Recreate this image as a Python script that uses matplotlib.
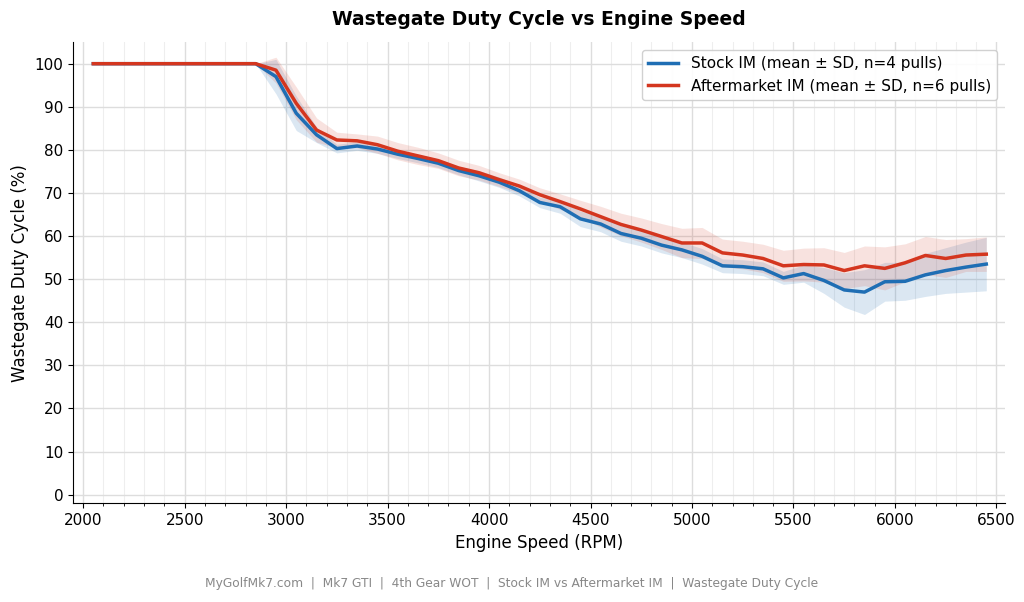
import numpy as np
import matplotlib
matplotlib.use("Agg")
import matplotlib.pyplot as plt
from matplotlib.ticker import MultipleLocator

# engine speed bins (RPM)
rpm = [2050, 2150, 2250, 2350, 2450, 2550, 2650, 2750, 2850, 2950,
       3050, 3150, 3250, 3350, 3450, 3550, 3650, 3750, 3850, 3950,
       4050, 4150, 4250, 4350, 4450, 4550, 4650, 4750, 4850, 4950,
       5050, 5150, 5250, 5350, 5450, 5550, 5650, 5750, 5850, 5950,
       6050, 6150, 6250, 6350, 6450]

stock_mean = [100, 100, 100, 100, 100, 100, 100, 100, 100, 97.0,
              88.5, 83.5, 80.3, 80.9, 80.2, 79.0, 78.0, 76.9, 75.2, 74.0,
              72.5, 70.5, 67.8, 66.8, 64.0, 62.8, 60.6, 59.5, 57.9, 56.8,
              55.3, 53.1, 52.9, 52.4, 50.3, 51.3, 49.7, 47.5, 47.0, 49.4,
              49.5, 51.0, 52.0, 52.8, 53.5]
stock_sd = [0, 0, 0, 0, 0, 0, 0, 0, 0, 4.0,
            4.0, 1.8, 1.0, 1.0, 1.0, 1.0, 1.0, 1.0, 1.0, 1.2,
            1.2, 1.2, 1.2, 1.5, 1.8, 1.8, 1.8, 1.8, 1.8, 1.8,
            1.8, 1.6, 1.6, 1.6, 1.5, 2.0, 3.0, 4.0, 5.2, 4.5,
            4.4, 5.0, 5.3, 5.8, 6.2]

after_mean = [100, 100, 100, 100, 100, 100, 100, 100, 100, 98.5,
              90.8, 84.6, 82.3, 82.1, 81.2, 79.7, 78.6, 77.5, 75.8, 74.7,
              73.1, 71.6, 69.6, 68.0, 66.3, 64.5, 62.7, 61.4, 59.9, 58.4,
              58.4, 56.1, 55.6, 54.8, 53.1, 53.4, 53.3, 52.0, 53.1, 52.5,
              53.8, 55.5, 54.8, 55.6, 55.8]
after_sd = [0, 0, 0, 0, 0, 0, 0, 0, 0, 3.0,
            3.8, 2.8, 1.8, 1.6, 2.0, 2.0, 2.0, 1.8, 1.8, 1.7,
            1.6, 1.6, 1.6, 1.8, 2.0, 2.4, 2.6, 2.8, 3.0, 3.4,
            3.6, 3.2, 3.2, 3.3, 3.6, 3.8, 4.0, 4.2, 4.6, 5.0,
            4.4, 4.4, 4.4, 3.8, 4.0]

blue = "#1f6eb4"
red = "#d4361f"

x = np.array(rpm)
sm, ss = np.array(stock_mean), np.array(stock_sd)
am, asd = np.array(after_mean), np.array(after_sd)

fig, ax = plt.subplots(figsize=(10.24, 6.02), dpi=100)
fig.subplots_adjust(left=0.0713, right=0.981, top=0.930, bottom=0.164)

ax.fill_between(x, sm - ss, sm + ss, color=blue, alpha=0.16, linewidth=0)
ax.fill_between(x, am - asd, am + asd, color=red, alpha=0.14, linewidth=0)
ax.plot(x, sm, color=blue, lw=2.5, label="Stock IM (mean \u00b1 SD, n=4 pulls)")
ax.plot(x, am, color=red, lw=2.5, label="Aftermarket IM (mean \u00b1 SD, n=6 pulls)")

ax.set_xlim(1950, 6540)
ax.set_ylim(-2, 105)
ax.xaxis.set_major_locator(MultipleLocator(500))
ax.xaxis.set_minor_locator(MultipleLocator(100))
ax.yaxis.set_major_locator(MultipleLocator(10))
ax.grid(which="major", color="#dddddd", linewidth=1.0)
ax.grid(which="minor", axis="x", color="#eeeeee", linewidth=0.8)
ax.set_axisbelow(True)

ax.spines['top'].set_visible(False)
ax.spines['right'].set_visible(False)
ax.tick_params(labelsize=11)

ax.set_xlabel("Engine Speed (RPM)", fontsize=12)
ax.set_ylabel("Wastegate Duty Cycle (%)", fontsize=12)
ax.set_title("Wastegate Duty Cycle vs Engine Speed", fontsize=13.5, fontweight="bold", pad=12)
ax.legend(loc="upper right", fontsize=11, framealpha=0.9)

fig.text(0.5, 0.03, "MyGolfMk7.com  |  Mk7 GTI  |  4th Gear WOT  |  Stock IM vs Aftermarket IM  |  Wastegate Duty Cycle",
         ha="center", va="center", fontsize=8.8, color="#888888")

plt.savefig("out.png", dpi=100)
